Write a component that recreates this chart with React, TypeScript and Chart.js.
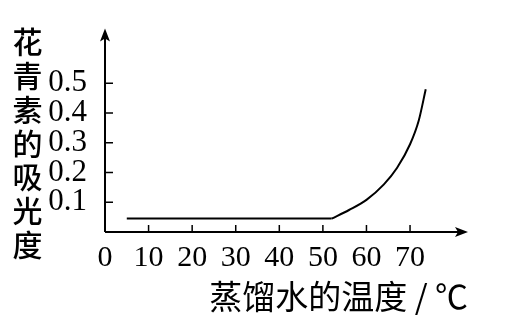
import React, { useEffect, useRef } from "react";
import { Chart, registerables } from "chart.js";

Chart.register(...registerables);

const flatTemperatures = [5, 52];
const flatAbsorbance = [0.045, 0.045];
const riseTemperatures = [52, 56, 60, 64, 67, 70, 72, 73.6];
const riseAbsorbance = [0.045, 0.074, 0.108, 0.16, 0.215, 0.295, 0.375, 0.48];
const xTickValues = [0, 10, 20, 30, 40, 50, 60, 70];
const yTickValues = [0.1, 0.2, 0.3, 0.4, 0.5];
const yTitleChars = ["花", "青", "素", "的", "吸", "光", "度"];
const xTitle = "蒸馏水的温度 / ℃";

const CJK = '"Noto Sans CJK SC", sans-serif';
const SERIF = '"Liberation Serif", "DejaVu Serif", serif';

const axesPlugin = {
  id: "axesArrows",
  afterDraw(chart: any) {
    const ctx = chart.ctx;
    const xs = chart.scales.x;
    const ys = chart.scales.y;
    const x0 = xs.getPixelForValue(0);
    const y0 = ys.getPixelForValue(0);
    const xEnd = xs.right;
    const yEnd = ys.top;
    ctx.save();
    ctx.strokeStyle = "#000";
    ctx.fillStyle = "#000";
    ctx.lineWidth = 2;
    ctx.beginPath();
    ctx.moveTo(x0, y0);
    ctx.lineTo(xEnd - 4, y0);
    ctx.moveTo(x0, y0);
    ctx.lineTo(x0, yEnd + 4);
    ctx.stroke();
    ctx.beginPath();
    ctx.moveTo(xEnd, y0);
    ctx.lineTo(xEnd - 13, y0 - 5);
    ctx.lineTo(xEnd - 10, y0);
    ctx.lineTo(xEnd - 13, y0 + 5);
    ctx.closePath();
    ctx.fill();
    ctx.beginPath();
    ctx.moveTo(x0, yEnd);
    ctx.lineTo(x0 - 5, yEnd + 13);
    ctx.lineTo(x0, yEnd + 10);
    ctx.lineTo(x0 + 5, yEnd + 13);
    ctx.closePath();
    ctx.fill();
    ctx.lineWidth = 1.5;
    ctx.beginPath();
    for (const v of xTickValues) {
      if (v === 0) continue;
      const px = xs.getPixelForValue(v);
      ctx.moveTo(px, y0);
      ctx.lineTo(px, y0 - 7);
    }
    for (const v of yTickValues) {
      const py = ys.getPixelForValue(v);
      ctx.moveTo(x0, py);
      ctx.lineTo(x0 + 8, py);
    }
    ctx.stroke();
    ctx.font = `500 30px ${CJK}`;
    ctx.textAlign = "center";
    ctx.textBaseline = "middle";
    yTitleChars.forEach((c, i) => {
      ctx.fillText(c, 27.5, 42 + 33.7 * i);
    });
    ctx.restore();
  },
};

export default function App() {
  const ref = useRef<HTMLCanvasElement | null>(null);
  useEffect(() => {
    if (!ref.current) return;
    const chart = new Chart(ref.current, {
      type: "line",
      data: {
        datasets: [
          {
            data: flatTemperatures.map((t, i) => ({ x: t, y: flatAbsorbance[i] })),
            borderColor: "#000",
            borderWidth: 2,
            pointRadius: 0,
            fill: false,
            tension: 0,
          },
          {
            data: riseTemperatures.map((t, i) => ({ x: t, y: riseAbsorbance[i] })),
            borderColor: "#000",
            borderWidth: 2,
            pointRadius: 0,
            fill: false,
            cubicInterpolationMode: "monotone",
          },
        ],
      },
      options: {
        animation: false,
        responsive: false,
        maintainAspectRatio: false,
        layout: { padding: { left: 0, right: 37, top: 18, bottom: 0 } },
        plugins: { legend: { display: false }, tooltip: { enabled: false } },
        scales: {
          x: {
            type: "linear",
            min: 0,
            max: 83.3,
            border: { display: false },
            grid: { display: false },
            afterBuildTicks: (s: any) => {
              s.ticks = xTickValues.map((v) => ({ value: v }));
            },
            afterFit: (s: any) => {
              s.height = 101;
            },
            ticks: {
              color: "#000",
              padding: 0,
              maxRotation: 0,
              autoSkip: false,
              font: { family: SERIF, size: 30 },
              callback: (v: any) => String(v),
            },
            title: {
              display: true,
              text: xTitle,
              align: "end",
              color: "#000",
              font: { family: CJK, size: 33 },
              padding: { top: 0, bottom: 17 },
            },
          },
          y: {
            type: "linear",
            min: 0,
            max: 0.684,
            border: { display: false },
            grid: { display: false },
            afterBuildTicks: (s: any) => {
              s.ticks = yTickValues.map((v) => ({ value: v }));
            },
            afterFit: (s: any) => {
              s.width = 105;
            },
            ticks: {
              color: "#000",
              padding: 10,
              autoSkip: false,
              font: { family: SERIF, size: 31 },
              callback: (v: any) => Number(v).toFixed(1),
            },
          },
        },
      },
      plugins: [axesPlugin],
    } as any);
    return () => chart.destroy();
  }, []);
  return (
    <div style={{ position: "fixed", left: 0, top: 0, width: 505, height: 333, background: "#fff" }}>
      <canvas ref={ref} width={505} height={333} style={{ width: 505, height: 333 }} />
    </div>
  );
}
